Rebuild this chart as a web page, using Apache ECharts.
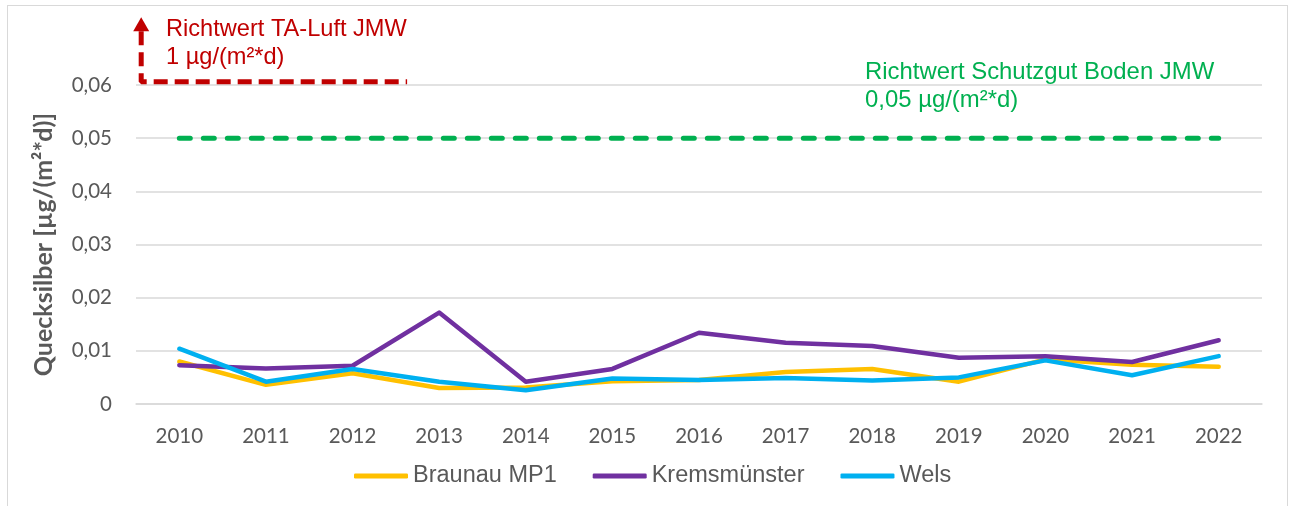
<!DOCTYPE html>
<html>
<head>
<meta charset="utf-8">
<script src="https://cdn.jsdelivr.net/npm/echarts@6/dist/echarts.min.js"></script>
<style>
  html, body { margin: 0; padding: 0; background: #fff; }
  .frame {
    position: absolute; left: 7px; top: 5px;
    width: 1279px; height: 540px;
    border: 1px solid #d9d9d9;
  }
  #chart { position: absolute; left: 0; top: 0; width: 1292px; height: 506px; }
</style>
</head>
<body>
<div class="frame"></div>
<div id="chart"></div>
<script>
const years = ['2010', '2011', '2012', '2013', '2014', '2015', '2016', '2017', '2018', '2019', '2020', '2021', '2022']
const braunau = [0.0080, 0.0036, 0.0058, 0.0030, 0.0031, 0.0043, 0.0045, 0.0060, 0.0066, 0.0042, 0.0084, 0.0074, 0.0070]
const kremsmuenster = [0.0073, 0.0067, 0.0072, 0.0172, 0.0042, 0.0066, 0.0134, 0.0115, 0.0109, 0.0087, 0.0090, 0.0079, 0.0120]
const wels = [0.0104, 0.0042, 0.0066, 0.0042, 0.0026, 0.0048, 0.0045, 0.0049, 0.0044, 0.0050, 0.0082, 0.0054, 0.0090]
const bodenJmw = [0.05, 0.05, 0.05, 0.05, 0.05, 0.05, 0.05, 0.05, 0.05, 0.05, 0.05, 0.05, 0.05]

// TA-Luft bracket (arrow up, then along 0,06), in category-index units
const taLuftX = [-0.44, -0.44, 2.63]
const taLuftY = [0.0701, 0.0606, 0.0606]

const grey = '#595959'
const chart = echarts.init(document.getElementById('chart'))

const seriesLine = (name, data, color) => ({
  name,
  type: 'line',
  data,
  symbol: 'none',
  lineStyle: { color, width: 4.5, cap: 'round', join: 'round' },
  itemStyle: { color }
})

chart.setOption({
  animation: false,
  grid: { left: 136, right: 30, top: 85, bottom: 102 },
  legend: {
    data: ['Braunau MP1', 'Kremsmünster', 'Wels'],
    left: 354,
    top: 464,
    padding: 0,
    icon: 'roundRect',
    itemWidth: 54,
    itemHeight: 5,
    itemGap: 36,
    textStyle: { fontFamily: 'Liberation Sans', fontSize: 23.5, color: grey }
  },
  xAxis: [
    {
      type: 'category',
      data: years,
      boundaryGap: true,
      axisLine: { lineStyle: { color: '#d9d9d9', width: 1.5 } },
      axisTick: { show: false },
      axisLabel: { fontFamily: 'Lato', fontSize: 20.5, color: grey, margin: 22 }
    },
    { type: 'value', min: -0.5, max: 12.5, show: false }
  ],
  yAxis: {
    type: 'value',
    min: 0,
    max: 0.06,
    interval: 0.01,
    name: 'Quecksilber [µg/(m²*d)]',
    nameLocation: 'middle',
    nameGap: 80,
    nameTextStyle: { fontFamily: 'Lato', fontWeight: 'bold', fontSize: 25, color: grey },
    axisLine: { show: false },
    axisTick: { show: false },
    splitLine: { lineStyle: { color: '#d9d9d9', width: 1.5 } },
    axisLabel: {
      fontFamily: 'Lato', fontSize: 20.5, color: grey, margin: 24,
      formatter: v => v === 0 ? '0' : v.toFixed(2).replace('.', ',')
    }
  },
  graphic: [
    {
      type: 'text', left: 166, top: 15,
      style: {
        text: 'Richtwert TA-Luft JMW\n1 µg/(m²*d)',
        font: '23.6px "Liberation Sans"', lineHeight: 28, fill: '#C00000'
      }
    },
    {
      type: 'text', left: 865, top: 58,
      style: {
        text: 'Richtwert Schutzgut Boden JMW\n0,05 µg/(m²*d)',
        font: '23.9px "Liberation Sans"', lineHeight: 28, fill: '#00B050'
      }
    }
  ],
  series: [
    {
      name: 'Boden JMW',
      type: 'line',
      data: bodenJmw,
      symbol: 'none',
      lineStyle: { color: '#00B050', width: 5, type: [11, 13], cap: 'round' }
    },
    {
      name: 'TA-Luft',
      type: 'line',
      xAxisIndex: 1,
      clip: false,
      data: taLuftX.map((x, i) => i === 0
        ? { value: [x, taLuftY[i]], symbol: 'triangle', symbolSize: [16, 14], symbolOffset: [0, -7] }
        : { value: [x, taLuftY[i]], symbol: 'none' }),
      showSymbol: true,
      itemStyle: { color: '#C00000' },
      lineStyle: { color: '#C00000', width: 5, type: [14, 7] }
    },
    seriesLine('Braunau MP1', braunau, '#FFC000'),
    seriesLine('Kremsmünster', kremsmuenster, '#7030A0'),
    seriesLine('Wels', wels, '#00B0F0')
  ]
})
</script>
</body>
</html>
